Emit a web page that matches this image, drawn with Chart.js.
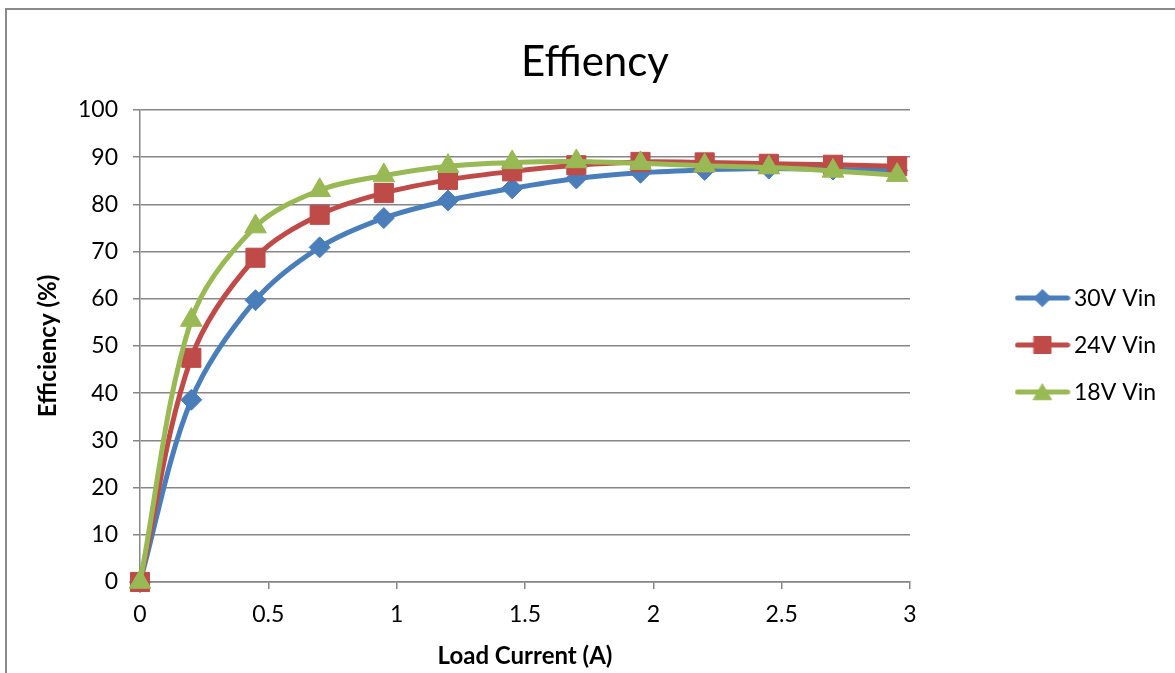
<!DOCTYPE html>
<html>
<head>
<meta charset="utf-8">
<title>Effiency</title>
<script src="https://cdn.jsdelivr.net/npm/chart.js@4/dist/chart.umd.min.js"></script>
<style>
  html, body { margin: 0; padding: 0; background: #fff; overflow: hidden; width: 1175px; height: 673px; }
  #frame { position: absolute; left: 5px; top: 8px; width: 1400px; height: 900px; border: 2px solid #8a8a8a; box-sizing: border-box; }
  #chart { position: absolute; left: 0; top: 0; }
</style>
</head>
<body>
<div id="frame"></div>
<canvas id="chart" width="1190" height="673"></canvas>
<script>
// Load current in amperes, shared by all three input-voltage curves
const loadCurrent = [0, 0.2, 0.45, 0.7, 0.95, 1.2, 1.45, 1.7, 1.95, 2.2, 2.45, 2.7, 2.95];

// Efficiency in percent for each input voltage
const vin30 = [0, 38.6, 59.7, 70.9, 77.1, 80.8, 83.4, 85.5, 86.7, 87.3, 87.6, 87.4, 87.2];
const vin24 = [0, 47.5, 68.7, 77.8, 82.4, 85.2, 87.0, 88.3, 89.0, 88.9, 88.6, 88.4, 88.1];
const vin18 = [0, 55.5, 75.3, 83.0, 86.1, 88.1, 88.9, 89.1, 88.7, 88.2, 87.8, 87.1, 86.2];

const seriesNames = ['30V Vin', '24V Vin', '18V Vin'];

const xTicks = [0, 0.5, 1, 1.5, 2, 2.5, 3];
const xTickLabels = ['0', '0.5', '1', '1.5', '2', '2.5', '3'];
const yTicks = [0, 10, 20, 30, 40, 50, 60, 70, 80, 90, 100];
const yTickLabels = ['0', '10', '20', '30', '40', '50', '60', '70', '80', '90', '100'];

const chartTitle = 'Effiency';
const xTitle = 'Load Current (A)';
const yTitle = 'Efficiency (%)';

// ---- styling ----
const FONT = 'Lato, "Open Sans", sans-serif';
const seriesColors = ['#4a7ebb', '#be4b48', '#98b954'];
const markerStyles = ['rectRot', 'rect', 'triangle'];
const markerRadius = [10.5, 13.5, 12.5];
const legendMarkerRadius = [8.5, 12, 10.5];
const gridColor = '#868686';
const LINE_WIDTH = 5;

// ---- layout ----
const W = 1190;
const PLOT_LEFT = 140, PLOT_RIGHT = 910, PLOT_TOP = 110, PLOT_BOTTOM = 582;
const LEGEND_FONT = 23, LEGEND_PAD = 24, LEGEND_BOX = 40;
const LEGEND_ITEM_LEFT = 1022.5;
const AXIS_FONT = 23, AXIS_TITLE_FONT = 24, TITLE_FONT = 42;

const measureCtx = document.createElement('canvas').getContext('2d');
measureCtx.font = `${LEGEND_FONT}px ${FONT}`;
const maxLabel = Math.max(...seriesNames.map(n => measureCtx.measureText(n).width));
const legendWidth = LEGEND_PAD + LEGEND_BOX + LEGEND_FONT / 2 + maxLabel + 10;
const sidePad = Math.max(0, W - (LEGEND_ITEM_LEFT - LEGEND_PAD) - legendWidth);
const gapWidth = LEGEND_ITEM_LEFT - LEGEND_PAD - PLOT_RIGHT;
const titleLine = TITLE_FONT * 1.2;
const axisTitleLine = AXIS_TITLE_FONT * 1.2;

// Legend glyph: a short line with the series marker in its middle
function makeGlyph(i) {
  const c = document.createElement('canvas');
  c.width = 56; c.height = 28;
  const g = c.getContext('2d');
  g.strokeStyle = seriesColors[i];
  g.fillStyle = seriesColors[i];
  g.lineWidth = LINE_WIDTH;
  g.lineCap = 'round';
  g.beginPath();
  g.moveTo(3, 13);
  g.lineTo(53, 13);
  g.stroke();
  g.lineWidth = 1;
  Chart.helpers.drawPoint(g, {
    pointStyle: markerStyles[i], rotation: 0,
    radius: legendMarkerRadius[i], borderWidth: 1
  }, 28, markerStyles[i] === 'triangle' ? 15.5 : 13);
  return c;
}
const legendGlyphs = seriesNames.map((_, i) => makeGlyph(i));

const seriesValues = [vin30, vin24, vin18];
const datasets = seriesNames.map((name, i) => ({
  label: name,
  data: loadCurrent.map((x, k) => ({ x: x, y: seriesValues[i][k] })),
  borderColor: seriesColors[i],
  backgroundColor: seriesColors[i],
  borderWidth: LINE_WIDTH,
  tension: 0.33,
  pointStyle: markerStyles[i],
  pointRadius: markerRadius[i],
  pointHoverRadius: markerRadius[i],
  pointBackgroundColor: seriesColors[i],
  pointBorderColor: seriesColors[i],
  pointBorderWidth: 1,
  clip: false,
  // later series are painted over earlier ones
  order: seriesNames.length - i
}));

Chart.defaults.color = '#000';
Chart.defaults.font.family = FONT;

new Chart(document.getElementById('chart'), {
  type: 'line',
  data: { datasets },
  options: {
    responsive: false,
    animation: false,
    devicePixelRatio: 1,
    layout: { padding: { left: sidePad, right: sidePad, top: 0, bottom: 0 } },
    plugins: {
      tooltip: { enabled: false },
      title: {
        display: true,
        text: chartTitle,
        color: '#000',
        font: { size: TITLE_FONT, weight: 'normal', family: FONT, lineHeight: 1.2 },
        padding: { top: 37, bottom: PLOT_TOP - 37 - titleLine }
      },
      legend: {
        display: true,
        position: 'right',
        align: 'center',
        fullSize: false,
        labels: {
          color: '#000',
          font: { size: LEGEND_FONT, family: FONT },
          usePointStyle: true,
          pointStyleWidth: LEGEND_BOX,
          padding: LEGEND_PAD,
          sort: (a, b) => a.datasetIndex - b.datasetIndex,
          generateLabels(chart) {
            const items = Chart.defaults.plugins.legend.labels.generateLabels(chart);
            items.forEach(it => { it.pointStyle = legendGlyphs[it.datasetIndex]; it.fontColor = '#000'; });
            return items;
          }
        }
      }
    },
    scales: {
      x: {
        type: 'linear',
        position: 'bottom',
        min: 0, max: 3,
        afterBuildTicks: s => { s.ticks = xTicks.map(v => ({ value: v })); },
        afterFit: s => { s.height = 673 - PLOT_BOTTOM; },
        ticks: {
          color: '#000',
          font: { size: AXIS_FONT, family: FONT },
          padding: 12,
          maxRotation: 0,
          callback: v => xTickLabels[xTicks.indexOf(v)]
        },
        grid: { drawOnChartArea: false, drawTicks: true, tickLength: 7, color: gridColor, lineWidth: 1.5 },
        border: { display: true, color: gridColor, width: 1.5 },
        title: {
          display: true, text: xTitle, color: '#000',
          font: { size: AXIS_TITLE_FONT, weight: 'bold', family: FONT, lineHeight: 1.2 },
          padding: { top: 0, bottom: 2 }
        }
      },
      y: {
        type: 'linear',
        position: 'left',
        min: 0, max: 100,
        afterBuildTicks: s => { s.ticks = yTicks.map(v => ({ value: v })); },
        afterFit: s => { s.width = PLOT_LEFT - sidePad; },
        ticks: {
          color: '#000',
          font: { size: AXIS_FONT, family: FONT },
          padding: 15,
          callback: v => yTickLabels[yTicks.indexOf(v)]
        },
        grid: { drawOnChartArea: true, drawTicks: true, tickLength: 7, color: gridColor, lineWidth: 1.5 },
        border: { display: true, color: gridColor, width: 1.5 },
        title: {
          display: true, text: yTitle, color: '#000',
          font: { size: AXIS_TITLE_FONT, weight: 'bold', family: FONT, lineHeight: 1.2 },
          padding: { top: 48 - sidePad - axisTitleLine / 2, bottom: 0 }
        }
      },
      // empty band between the plot and the legend
      gap: {
        type: 'linear',
        position: 'right',
        display: true,
        afterFit: s => { s.width = gapWidth; },
        ticks: { display: false },
        grid: { display: false },
        border: { display: false }
      }
    }
  }
});
</script>
</body>
</html>
